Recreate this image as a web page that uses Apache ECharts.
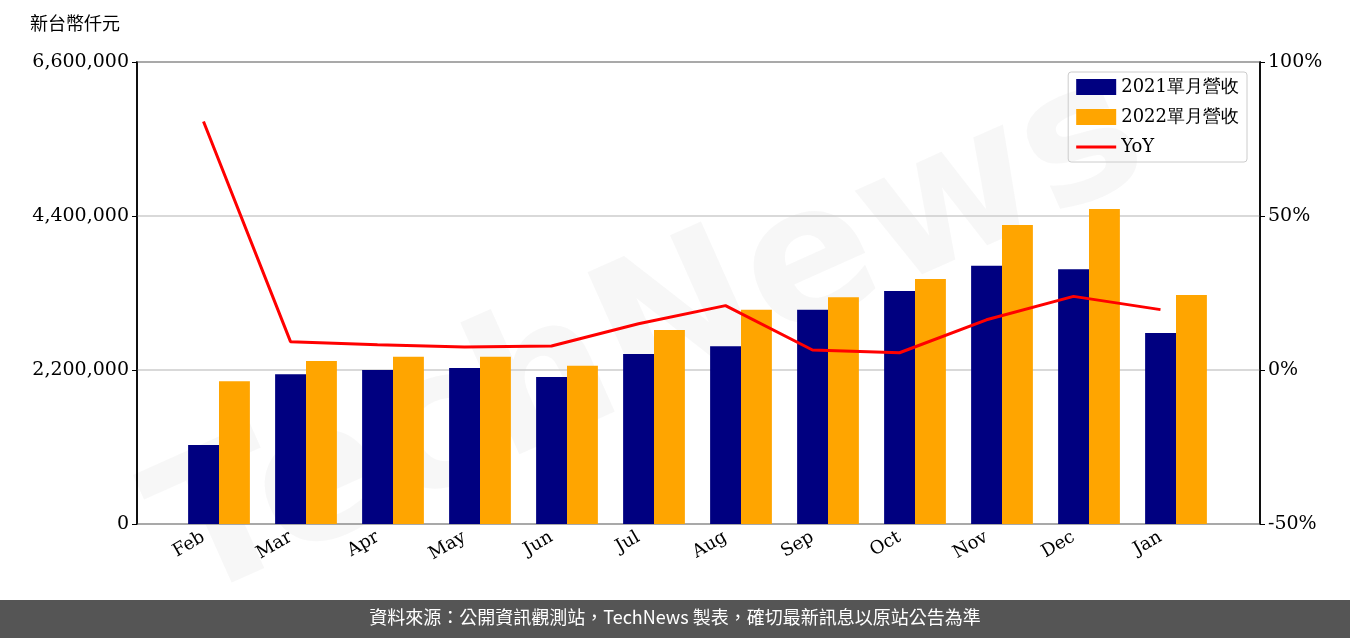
<!DOCTYPE html>
<html><head><meta charset="utf-8">
<script src="https://cdn.jsdelivr.net/npm/echarts@6/dist/echarts.min.js"></script>
<style>html,body{margin:0;padding:0;background:#fff}#c{width:1350px;height:638px}</style>
</head><body><div id="c"></div>
<script>
const categories = ['Feb','Mar','Apr','May','Jun','Jul','Aug','Sep','Oct','Nov','Dec','Jan'];
const rev2021 = [1130000,2140000,2200000,2230000,2100000,2430000,2540000,3060000,3330000,3690000,3640000,2730000];
const rev2022 = [2040000,2330000,2390000,2390000,2260000,2770000,3060000,3240000,3500000,4270000,4500000,3270000];
const yoy = [80.7,9.2,8.2,7.5,7.8,15,20.9,6.5,5.6,16.3,23.9,19.6];
const leftTicks = [0,2200000,4400000,6600000];
const rightTicks = [-50,0,50,100];
const font = 'DejaVu Serif';
const chart = echarts.init(document.getElementById('c'));
chart.setOption({
  animation:false,
  textStyle:{fontFamily:font},
  grid:[
    {left:137,right:90,top:62,bottom:114,show:true,borderColor:'#000',borderWidth:1.5,backgroundColor:'transparent'},
    {left:175.5,right:130.5,top:62,bottom:114},
    {left:160,right:146,top:62,bottom:114}
  ],
  graphic:[
    {type:'text',rotation:0.42,x:130,y:470,z:-10,style:{text:'TechNews',fill:'rgba(200,200,200,0.14)',fontSize:190,fontFamily:'DejaVu Sans',fontWeight:'bold'}},
    {type:'rect',shape:{x:0,y:600,width:1350,height:38},style:{fill:'#555'}},
    {type:'text',left:'center',top:608,style:{text:'資料來源：公開資訊觀測站，TechNews 製表，確切最新訊息以原站公告為準',fill:'#fff',fontSize:18,fontFamily:'Noto Sans CJK TC'}},
    {type:'text',left:30,top:14,style:{text:'新台幣仟元',fill:'#000',fontSize:18,fontFamily:'Noto Sans CJK TC'}}
  ],
  legend:{right:103,top:72,orient:'vertical',itemWidth:40,itemHeight:16,itemGap:12,padding:[6,8],
    borderColor:'#ccc',borderWidth:1,borderRadius:3,
    textStyle:{fontSize:18,fontFamily:font,color:'#000'},
    data:[{name:'2021單月營收',icon:'rect'},{name:'2022單月營收',icon:'rect'},{name:'YoY',icon:'path://M0,7 L40,7 L40,10 L0,10 Z'}]},
  xAxis:[
    {type:'value',gridIndex:0,min:0,max:1,show:false},
    {type:'category',gridIndex:1,data:categories,show:false},
    {type:'category',gridIndex:2,data:categories,
    axisLine:{show:false},axisTick:{alignWithLabel:true,lineStyle:{color:'#000'}},
    axisLabel:{rotate:30,fontSize:18,color:'#000',fontFamily:font,margin:12}}
  ],
  yAxis:[
    {type:'value',gridIndex:0,min:0,max:6600000,interval:2200000,
     axisLine:{show:true,lineStyle:{color:'#000',width:1.5}},axisTick:{show:true,lineStyle:{color:'#000'}},
     splitLine:{lineStyle:{color:'#ccc',width:1.5}},
     axisLabel:{fontSize:19,color:'#000',fontFamily:font,formatter:v=>leftTicks.includes(v)?v.toLocaleString('en-US'):''}},
    {type:'value',gridIndex:0,min:-50,max:100,interval:50,position:'right',
     axisLine:{show:true,lineStyle:{color:'#000',width:1.5}},axisTick:{show:true,lineStyle:{color:'#000'}},
     splitLine:{show:false},
     axisLabel:{fontSize:19,color:'#000',fontFamily:font,formatter:v=>rightTicks.includes(v)?v+'%':''}},
    {type:'value',gridIndex:1,min:0,max:6600000,show:false,splitLine:{show:false}},
    {type:'value',gridIndex:2,min:-50,max:100,show:false,splitLine:{show:false}}
  ],
  series:[
    {name:'2021單月營收',type:'bar',xAxisIndex:1,yAxisIndex:2,data:rev2021,itemStyle:{color:'#000080'},barGap:'0%',barCategoryGap:'29%'},
    {name:'2022單月營收',type:'bar',xAxisIndex:1,yAxisIndex:2,data:rev2022,itemStyle:{color:'#FFA500'}},
    {name:'YoY',type:'line',xAxisIndex:2,yAxisIndex:3,data:yoy,symbol:'none',lineStyle:{color:'#ff0000',width:3},itemStyle:{color:'#ff0000'}}
  ]
});
</script></body></html>
